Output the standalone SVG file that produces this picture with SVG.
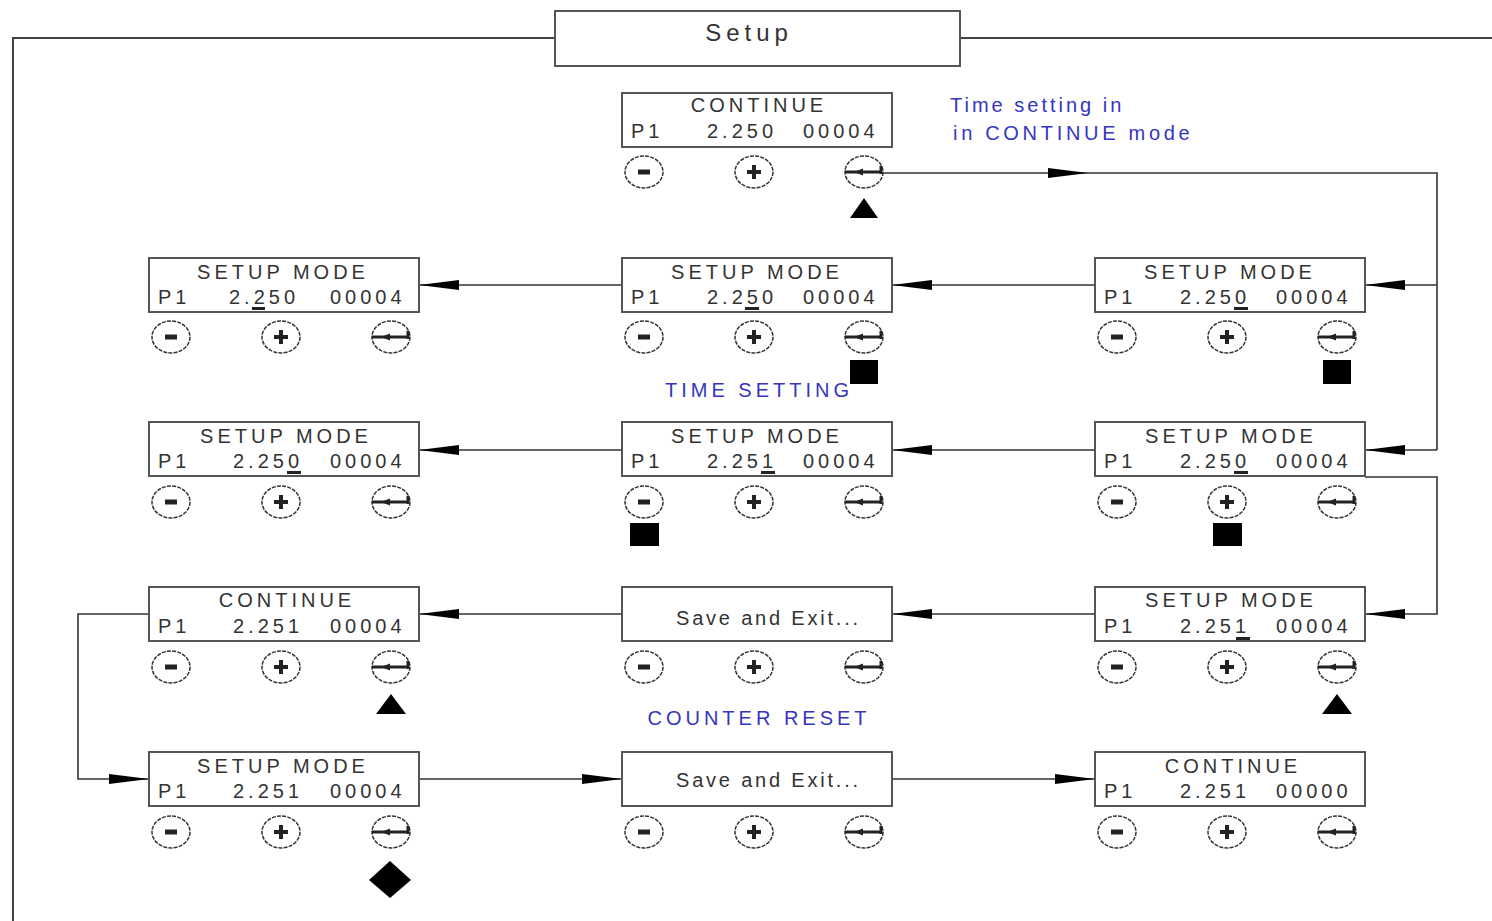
<svg xmlns="http://www.w3.org/2000/svg" width="1492" height="921" viewBox="0 0 1492 921">
<style>
.box{fill:#fff;stroke:#555;stroke-width:2}
.t{font-family:"Liberation Sans",Arial,sans-serif;font-size:20px;fill:#333;letter-spacing:4px}
.tm{text-anchor:middle}
.sv{font-family:"Liberation Sans",Arial,sans-serif;font-size:20px;fill:#333;letter-spacing:2.8px}
.blue{font-family:"Liberation Sans",Arial,sans-serif;font-size:20px;fill:#3535c0;letter-spacing:3px}
.blue2{font-family:"Liberation Sans",Arial,sans-serif;font-size:20px;fill:#3535c0;letter-spacing:3.7px}
.bluec{font-family:"Liberation Sans",Arial,sans-serif;font-size:20px;fill:#3535c0;letter-spacing:4px;text-anchor:middle}
.conn{fill:none;stroke:#333;stroke-width:1.6}
.frame{fill:none;stroke:#444;stroke-width:2}
.ul{fill:#222}
.ind{fill:#000}
.btn{fill:#fff;stroke:#333;stroke-width:1.5;stroke-dasharray:4 1.2}
</style>
<defs>
<marker id="ah" viewBox="0 0 40 12" refX="40" refY="6" markerWidth="40" markerHeight="12" markerUnits="userSpaceOnUse" orient="auto">
<path d="M0,1 L40,6 L0,11 Z" fill="#000"/>
</marker>
<g id="bm"><ellipse class="btn" cx="0" cy="0" rx="19" ry="16"/><rect x="-6" y="-2.5" width="12" height="5" fill="#222"/></g>
<g id="bp"><ellipse class="btn" cx="0" cy="0" rx="19" ry="16"/><rect x="-7" y="-2" width="14" height="4" fill="#222"/><rect x="-2" y="-7" width="4" height="14" fill="#222"/></g>
<g id="be"><ellipse class="btn" cx="0" cy="0" rx="19" ry="16"/><path d="M-19,0 H17 M17,-6 V2" stroke="#222" stroke-width="3" fill="none"/><path d="M-10,0 L-1,-3.5 L-1,3.5 Z" fill="#222"/></g>
</defs>

<g id="frame">
<path class="frame" d="M13,921 V38 H555 M960,38 H1492"/>
</g>

<g id="setup">
<rect class="box" x="555" y="11" width="405" height="55"/>
<text x="749" y="41" font-family="Liberation Sans, Arial, sans-serif" font-size="24" fill="#333" letter-spacing="5" text-anchor="middle">Setup</text>
</g>

<g id="connectors">
<path class="conn" d="M864,173 H1088" marker-end="url(#ah)"/>
<path class="conn" d="M1088,173 H1437 V450"/>
<path class="conn" d="M1437,285 H1365" marker-end="url(#ah)"/>
<path class="conn" d="M1437,450 H1365" marker-end="url(#ah)"/>
<path class="conn" d="M1095,285 H892" marker-end="url(#ah)"/>
<path class="conn" d="M622,285 H419" marker-end="url(#ah)"/>
<path class="conn" d="M1095,450 H892" marker-end="url(#ah)"/>
<path class="conn" d="M622,450 H419" marker-end="url(#ah)"/>
<path class="conn" d="M1365,477 H1437 V614 H1365" marker-end="url(#ah)"/>
<path class="conn" d="M1095,614 H892" marker-end="url(#ah)"/>
<path class="conn" d="M622,614 H419" marker-end="url(#ah)"/>
<path class="conn" d="M149,614 H78 V779 H149" marker-end="url(#ah)"/>
<path class="conn" d="M419,779 H622" marker-end="url(#ah)"/>
<path class="conn" d="M892,779 H1095" marker-end="url(#ah)"/>
</g>

<g id="labels">
<text class="blue" x="950" y="112">Time setting in</text>
<text class="blue2" x="953" y="140">in CONTINUE mode</text>
<text class="bluec" x="759" y="397">TIME SETTING</text>
<text class="bluec" x="759" y="725">COUNTER RESET</text>
</g>

<g id="n0">
<rect class="box" x="622" y="93" width="270" height="54"/>
<text class="t tm" x="759" y="112">CONTINUE</text>
<text class="t" x="631" y="138">P1</text><text class="t" x="707" y="138">2.250</text><text class="t" x="803" y="138">00004</text>
<use href="#bm" x="644" y="172"/><use href="#bp" x="754" y="172"/><use href="#be" x="864" y="172"/>
<path class="ind" d="M864,198 L878,218 L850,218 Z"/>
</g>

<g id="n1l">
<rect class="box" x="149" y="258" width="270" height="54"/>
<text class="t tm" x="283" y="279">SETUP MODE</text>
<text class="t" x="158" y="304">P1</text><text class="t" x="229" y="304">2.250</text><text class="t" x="330" y="304">00004</text>
<rect class="ul" x="252" y="307" width="13" height="3"/>
<use href="#bm" x="171" y="337"/><use href="#bp" x="281" y="337"/><use href="#be" x="391" y="337"/>
</g>

<g id="n1m">
<rect class="box" x="622" y="258" width="270" height="54"/>
<text class="t tm" x="757" y="279">SETUP MODE</text>
<text class="t" x="631" y="304">P1</text><text class="t" x="707" y="304">2.250</text><text class="t" x="803" y="304">00004</text>
<rect class="ul" x="745" y="307" width="14" height="3"/>
<use href="#bm" x="644" y="337"/><use href="#bp" x="754" y="337"/><use href="#be" x="864" y="337"/>
<rect class="ind" x="850" y="360" width="28" height="24"/>
</g>

<g id="n1r">
<rect class="box" x="1095" y="258" width="270" height="54"/>
<text class="t tm" x="1230" y="279">SETUP MODE</text>
<text class="t" x="1104" y="304">P1</text><text class="t" x="1180" y="304">2.250</text><text class="t" x="1276" y="304">00004</text>
<rect class="ul" x="1234" y="307" width="14" height="3"/>
<use href="#bm" x="1117" y="337"/><use href="#bp" x="1227" y="337"/><use href="#be" x="1337" y="337"/>
<rect class="ind" x="1323" y="360" width="28" height="24"/>
</g>

<g id="n2l">
<rect class="box" x="149" y="422" width="270" height="54"/>
<text class="t tm" x="286" y="443">SETUP MODE</text>
<text class="t" x="158" y="468">P1</text><text class="t" x="233" y="468">2.250</text><text class="t" x="330" y="468">00004</text>
<rect class="ul" x="287" y="471" width="14" height="3"/>
<use href="#bm" x="171" y="502"/><use href="#bp" x="281" y="502"/><use href="#be" x="391" y="502"/>
</g>

<g id="n2m">
<rect class="box" x="622" y="422" width="270" height="54"/>
<text class="t tm" x="757" y="443">SETUP MODE</text>
<text class="t" x="631" y="468">P1</text><text class="t" x="707" y="468">2.251</text><text class="t" x="803" y="468">00004</text>
<rect class="ul" x="761" y="471" width="14" height="3"/>
<use href="#bm" x="644" y="502"/><use href="#bp" x="754" y="502"/><use href="#be" x="864" y="502"/>
<rect class="ind" x="630" y="523" width="29" height="23"/>
</g>

<g id="n2r">
<rect class="box" x="1095" y="422" width="270" height="54"/>
<text class="t tm" x="1231" y="443">SETUP MODE</text>
<text class="t" x="1104" y="468">P1</text><text class="t" x="1180" y="468">2.250</text><text class="t" x="1276" y="468">00004</text>
<rect class="ul" x="1234" y="471" width="14" height="3"/>
<use href="#bm" x="1117" y="502"/><use href="#bp" x="1227" y="502"/><use href="#be" x="1337" y="502"/>
<rect class="ind" x="1213" y="523" width="29" height="23"/>
</g>

<g id="n3l">
<rect class="box" x="149" y="587" width="270" height="54"/>
<text class="t tm" x="287" y="607">CONTINUE</text>
<text class="t" x="158" y="633">P1</text><text class="t" x="233" y="633">2.251</text><text class="t" x="330" y="633">00004</text>
<use href="#bm" x="171" y="667"/><use href="#bp" x="281" y="667"/><use href="#be" x="391" y="667"/>
<path class="ind" d="M391,694 L406,714 L376,714 Z"/>
</g>

<g id="n3m">
<rect class="box" x="622" y="587" width="270" height="54"/>
<text class="sv" x="676" y="625">Save and Exit...</text>
<use href="#bm" x="644" y="667"/><use href="#bp" x="754" y="667"/><use href="#be" x="864" y="667"/>
</g>

<g id="n3r">
<rect class="box" x="1095" y="587" width="270" height="54"/>
<text class="t tm" x="1231" y="607">SETUP MODE</text>
<text class="t" x="1104" y="633">P1</text><text class="t" x="1180" y="633">2.251</text><text class="t" x="1276" y="633">00004</text>
<rect class="ul" x="1236" y="637" width="14" height="3"/>
<use href="#bm" x="1117" y="667"/><use href="#bp" x="1227" y="667"/><use href="#be" x="1337" y="667"/>
<path class="ind" d="M1337,694 L1352,714 L1322,714 Z"/>
</g>

<g id="n4l">
<rect class="box" x="149" y="752" width="270" height="54"/>
<text class="t tm" x="283" y="773">SETUP MODE</text>
<text class="t" x="158" y="798">P1</text><text class="t" x="233" y="798">2.251</text><text class="t" x="330" y="798">00004</text>
<use href="#bm" x="171" y="832"/><use href="#bp" x="281" y="832"/><use href="#be" x="391" y="832"/>
<path class="ind" d="M390,861 L411,880 L390,898 L369,880 Z"/>
</g>

<g id="n4m">
<rect class="box" x="622" y="752" width="270" height="54"/>
<text class="sv" x="676" y="787">Save and Exit...</text>
<use href="#bm" x="644" y="832"/><use href="#bp" x="754" y="832"/><use href="#be" x="864" y="832"/>
</g>

<g id="n4r">
<rect class="box" x="1095" y="752" width="270" height="54"/>
<text class="t tm" x="1233" y="773">CONTINUE</text>
<text class="t" x="1104" y="798">P1</text><text class="t" x="1180" y="798">2.251</text><text class="t" x="1276" y="798">00000</text>
<use href="#bm" x="1117" y="832"/><use href="#bp" x="1227" y="832"/><use href="#be" x="1337" y="832"/>
</g>
</svg>
